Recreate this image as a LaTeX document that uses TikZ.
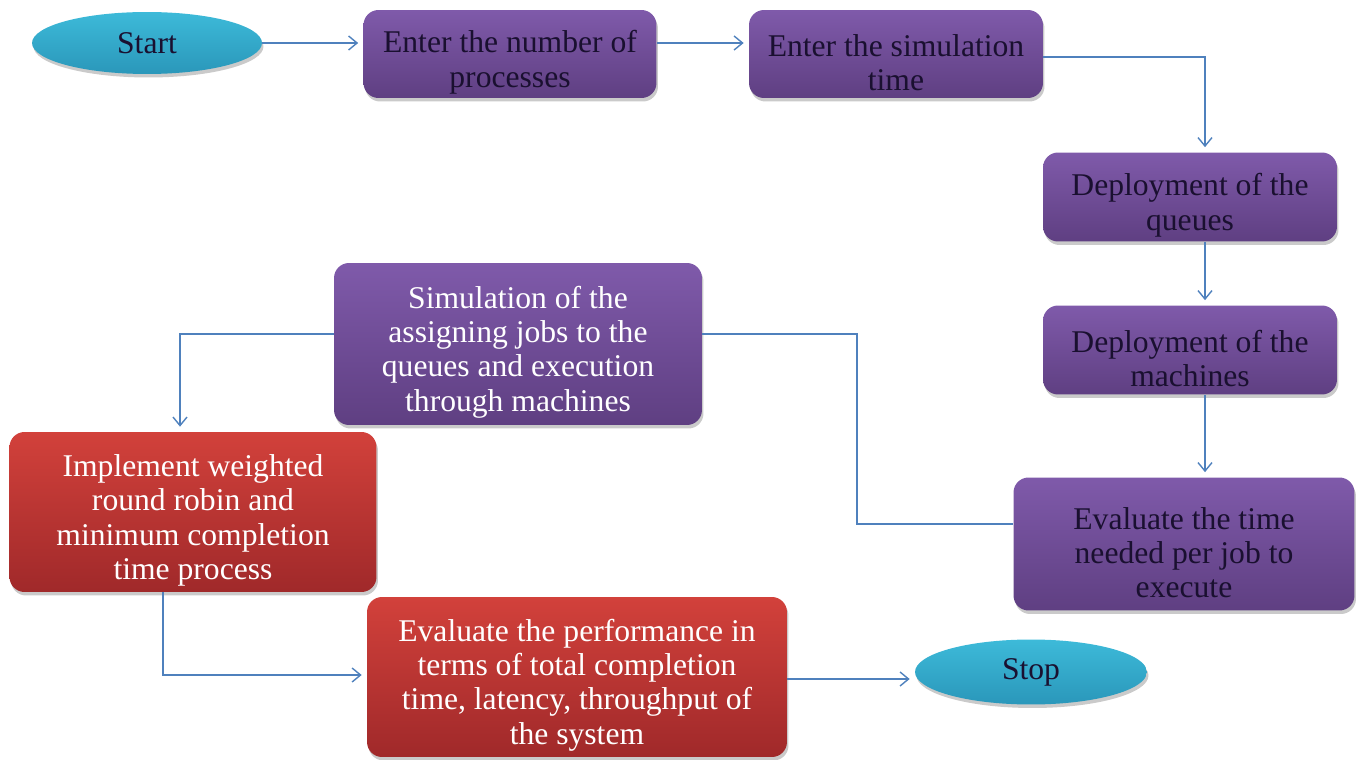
\documentclass[tikz,border=0pt]{standalone}
\usepackage{fontspec}
\setmainfont{Liberation Serif}
\usetikzlibrary{arrows.meta,shapes.geometric,shadows}

\definecolor{purpletop}{HTML}{7F5AAA}
\definecolor{purplebot}{HTML}{5F3F82}
\definecolor{redtop}{HTML}{D2413B}
\definecolor{redbot}{HTML}{A0292A}
\definecolor{cyantop}{HTML}{3DBAD9}
\definecolor{cyanbot}{HTML}{2A97BA}
\definecolor{linkblue}{HTML}{4F81BD}
\definecolor{darktext}{HTML}{1A1030}

% extra room above the first line, pushes the text down a little
\newcommand{\toplead}{\rule{0pt}{22pt}}

\tikzset{
    flowbox/.style={rectangle, rounded corners=0.3cm, align=center, inner sep=0pt,
        font=\fontsize{18}{19.4}\selectfont,
        drop shadow={shadow xshift=0.03cm, shadow yshift=-0.07cm, opacity=0.35, fill=black!60}},
    purplebox/.style={flowbox, top color=purpletop, bottom color=purplebot},
    redbox/.style={flowbox, top color=redtop, bottom color=redbot, text=white},
    endpoint/.style={ellipse, inner sep=0pt, top color=cyantop, bottom color=cyanbot,
        text=darktext, font=\fontsize{18}{19.4}\selectfont,
        drop shadow={shadow xshift=0.03cm, shadow yshift=-0.07cm, opacity=0.35, fill=black!60}},
    flowline/.style={draw=linkblue, line width=0.8pt},
    flowarrow/.style={flowline, -{Straight Barb[length=1.7mm,width=2.8mm]}, shorten >=1mm}
}

\begin{document}
\begin{tikzpicture}[x=0.02cm,y=-0.02cm]

    \useasboundingbox (0,0) rectangle (1357,760);

    % top row
    \node[endpoint, minimum width=4.6cm, minimum height=1.24cm] at (147,43) (start) {Start};
    \node[purplebox, text=darktext, minimum width=5.86cm, minimum height=1.76cm] at (510,54) (number) {\toplead Enter the number of\\processes};
    \node[purplebox, text=darktext, minimum width=5.88cm, minimum height=1.76cm] at (896,54) (simtime) {\toplead Enter the simulation\\time};

    % right column
    \node[purplebox, text=darktext, minimum width=5.88cm, minimum height=1.78cm] at (1190,197) (queues) {\toplead Deployment of the\\queues};
    \node[purplebox, text=darktext, minimum width=5.88cm, minimum height=1.78cm] at (1190,350) (machines) {\toplead Deployment of the\\machines};
    \node[purplebox, text=darktext, minimum width=6.82cm, minimum height=2.66cm] at (1184,544) (evaltime) {\toplead Evaluate the time\\needed per job to\\execute};

    % middle and bottom
    \node[purplebox, text=white, minimum width=7.36cm, minimum height=3.24cm] at (518,344) (simulate) {\toplead Simulation of the\\assigning jobs to the\\queues and execution\\through machines};
    \node[redbox, minimum width=7.34cm, minimum height=3.2cm] at (193,512) (implement) {\toplead Implement weighted\\round robin and\\minimum completion\\time process};
    \node[redbox, minimum width=8.4cm, minimum height=3.2cm] at (577,677) (perform) {\toplead Evaluate the performance in\\terms of total completion\\time, latency, throughput of\\the system};
    \node[endpoint, minimum width=4.64cm, minimum height=1.3cm] at (1031,672) (stop) {Stop};

    \coordinate (turn) at (857,0);

    \draw[flowarrow] (start.east) -- (start.east -| number.west);
    \draw[flowarrow] (number.east |- start.east) -- (simtime.west |- start.east);
    \draw[flowarrow] ([yshift=-0.06cm]simtime.east) -| ([xshift=0.3cm]queues.north);
    \draw[flowarrow] ([xshift=0.3cm]queues.south) -- ([xshift=0.3cm]machines.north);
    \draw[flowarrow] ([xshift=0.3cm]machines.south) -- ([xshift=0.3cm]machines.south |- evaltime.north);
    \draw[flowline] ([yshift=0.4cm]evaltime.west) -| ([yshift=0.2cm]turn |- simulate.east) -- ([yshift=0.2cm]simulate.east);
    \draw[flowarrow] ([yshift=0.2cm]simulate.west) -| ([xshift=-0.26cm]implement.north);
    \draw[flowarrow] ([xshift=-0.6cm]implement.south) |- ([yshift=0.04cm]perform.west);
    \draw[flowarrow] ([yshift=-0.04cm]perform.east) -- ([yshift=-0.04cm]perform.east -| stop.west);

\end{tikzpicture}
\end{document}
